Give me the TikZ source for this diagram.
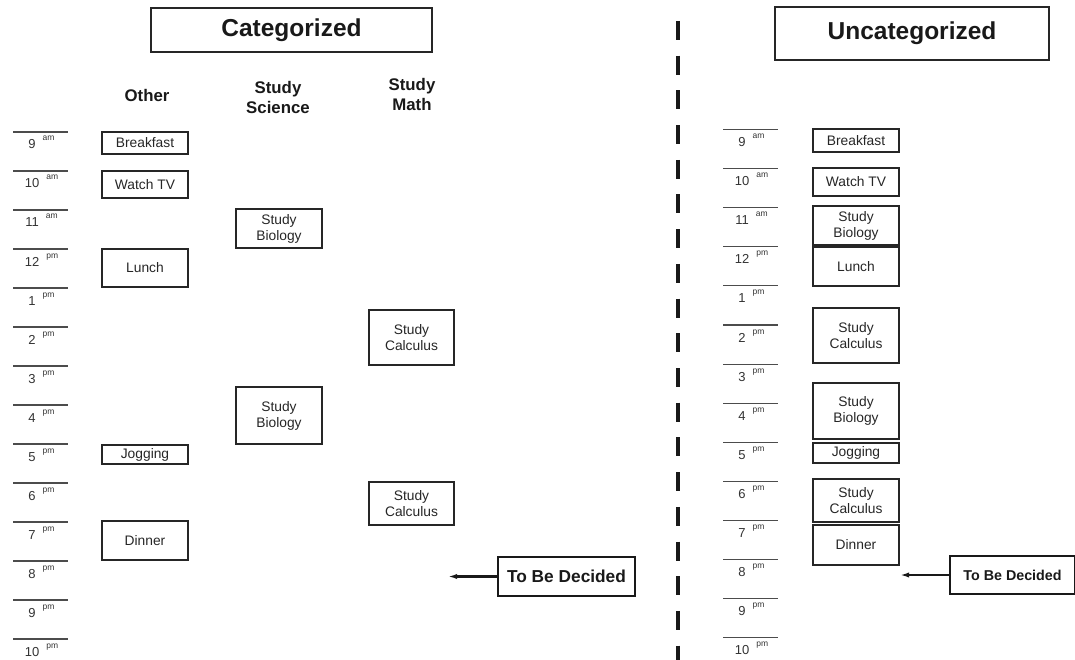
\documentclass[tikz,border=0pt]{standalone}
\usepackage{fontspec}
\setmainfont{Liberation Sans}
\usetikzlibrary{arrows.meta}
\begin{document}
\begin{tikzpicture}[x=1pt,y=-1pt,
  ev/.style={draw=black!85,line width=1.3pt,inner sep=0pt,minimum width=86pt,align=center,
    font=\fontsize{13.8}{16}\selectfont,text=black!85},
  title/.style={draw=black!85,line width=1.3pt,inner sep=0pt,font=\bfseries\fontsize{24.5}{27}\selectfont,text=black!90},
  head/.style={align=center,font=\bfseries\fontsize{16.8}{20}\selectfont,text=black!90},
  tbd/.style={draw=black!90,line width=2.4pt,inner sep=0pt,font=\bfseries\fontsize{17.3}{19}\selectfont,text=black!90},
  tline/.style={draw=black!70,line width=1.1pt},
  tlab/.style={anchor=base,inner sep=0pt,font=\fontsize{13}{14}\selectfont,text=black!80},
  arr/.style={draw=black!90,line width=2.2pt,-{Latex[length=10pt,width=5pt]}}
]
\useasboundingbox (0,0) rectangle (1075,660);
\newcommand{\sfx}[1]{\hspace{7pt}\raisebox{8pt}{\fontsize{8.5}{9}\selectfont #1}}

% titles
\node[title,minimum width=281pt,minimum height=44pt] (tcat) at (291.5,30) {Categorized};
\node[title,minimum width=274pt,minimum height=53pt] (tunc) at (912,33.5) {Uncategorized};

% column headers
\node[head] (hother) at (147,95) {Other};
\node[head] (hsci) at (278,97) {Study\\Science};
\node[head] (hmath) at (412,94) {Study\\Math};

% divider
\coordinate (dtop) at (678,21);
\coordinate (dbot) at (678,660);
\draw[line width=4.5pt,draw=black!90,dash pattern=on 19pt off 15.7pt] (dtop) -- (dbot);

% time scales
\foreach \t [count=\k from 0] in {9\sfx{am},10\sfx{am},11\sfx{am},12\sfx{pm},1\sfx{pm},2\sfx{pm},3\sfx{pm},4\sfx{pm},5\sfx{pm},6\sfx{pm},7\sfx{pm},8\sfx{pm},9\sfx{pm},10\sfx{pm}}{
  \coordinate (la\k) at (13,132+39*\k);
  \coordinate (lb\k) at (68,132+39*\k);
  \draw[tline] (la\k) -- (lb\k);
  \node[tlab] (lt\k) at (41.5,149+39*\k) {\t};
  \coordinate (ra\k) at (723,129.5+39.1*\k);
  \coordinate (rb\k) at (778,129.5+39.1*\k);
  \draw[tline] (ra\k) -- (rb\k);
  \node[tlab] (rt\k) at (751.5,146.5+39.1*\k) {\t};
}

% categorized: other
\node[ev,minimum height=22pt] (c1) at (145,143) {Breakfast};
\node[ev,minimum height=27pt] (c2) at (145,184.5) {Watch TV};
\node[ev,minimum height=38pt] (c3) at (145,268) {Lunch};
\node[ev,minimum height=19pt] (c4) at (145,454.5) {Jogging};
\node[ev,minimum height=39pt] (c5) at (145,540.5) {Dinner};
% science
\node[ev,minimum height=39pt] (s1) at (279,228.5) {Study\\Biology};
\node[ev,minimum height=57pt] (s2) at (279,415.5) {Study\\Biology};
% math
\node[ev,minimum width=85pt,minimum height=55pt] (m1) at (411.5,337.5) {Study\\Calculus};
\node[ev,minimum width=85pt,minimum height=43pt] (m2) at (411.5,503.5) {Study\\Calculus};
% tbd left
\node[tbd,minimum width=137pt,minimum height=39pt] (tbl) at (566.5,576.5) {To Be Decided};
\coordinate (tblend) at (447,576.5);
\draw[arr] (tbl.west) -- (tblend);

% uncategorized
\node[ev,minimum height=23pt] (u1) at (856,140.5) {Breakfast};
\node[ev,minimum height=28pt] (u2) at (856,182) {Watch TV};
\node[ev,minimum height=39pt] (u3) at (856,225.5) {Study\\Biology};
\node[ev,minimum height=39pt] (u4) at (856,266.5) {Lunch};
\node[ev,minimum height=55pt] (u5) at (856,335.5) {Study\\Calculus};
\node[ev,minimum height=56pt] (u6) at (856,411) {Study\\Biology};
\node[ev,minimum height=20pt] (u7) at (856,453) {Jogging};
\node[ev,minimum height=43pt] (u8) at (856,500.5) {Study\\Calculus};
\node[ev,minimum height=40pt] (u9) at (856,545) {Dinner};
\node[tbd,minimum width=125pt,minimum height=38pt,font=\bfseries\fontsize{14.3}{16}\selectfont,line width=2pt] (tbr) at (1012.5,575) {To Be Decided};
\coordinate (tbrend) at (899,575);
\draw[arr] (tbr.west) -- (tbrend);
\end{tikzpicture}
\end{document}
